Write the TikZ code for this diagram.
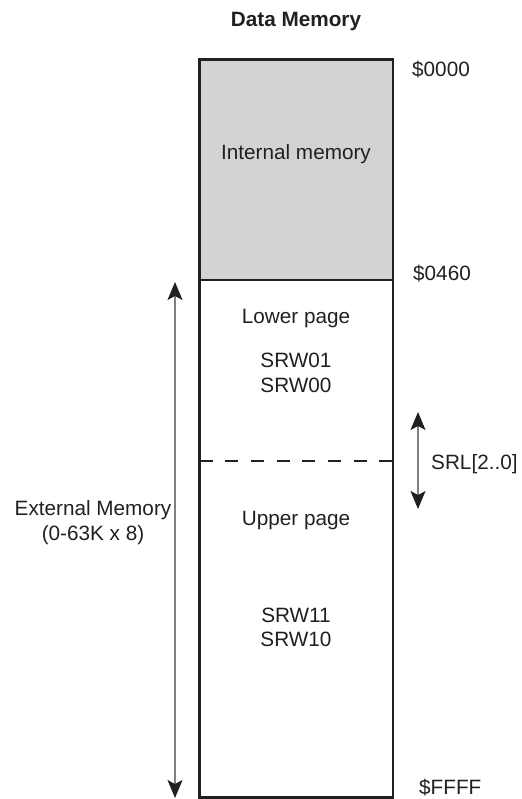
\documentclass[tikz,border=0pt]{standalone}
\usepackage{fontspec}
\setmainfont{Liberation Sans}
\usetikzlibrary{arrows.meta}
\definecolor{memgray}{RGB}{210,211,213}
\definecolor{arrowgray}{RGB}{128,128,128}
\definecolor{inkblack}{RGB}{35,31,32}
\tikzset{
  lbl/.style={inner sep=0pt, text=inkblack, font=\fontsize{20.8}{25}\selectfont},
  boxline/.style={line width=2.6bp, draw=inkblack},
  tipst/.style={Stealth[length=18bp,width=15bp,inset=4bp,color=inkblack]},
  dim/.style={draw=arrowgray, line width=1.2bp, {Stealth[length=18bp,width=15bp,inset=4bp,color=inkblack]}-{Stealth[length=18bp,width=15bp,inset=4bp,color=inkblack]}},
  pagesep/.style={line width=2bp, draw=inkblack, dash pattern=on 13bp off 12.7bp},
  divline/.style={line width=1.1bp, draw=inkblack}
}
\begin{document}
\begin{tikzpicture}[x=1bp,y=-1bp]
\useasboundingbox (0,0) rectangle (522,799);
\coordinate (tl) at (199.5,59.5);
\coordinate (br) at (393,797.5);
\coordinate (ml) at (199.5,280);
\coordinate (mr) at (393,280);
\coordinate (dl) at (199.5,460.5);
\coordinate (dr) at (393,460.5);
\fill[memgray] (tl) rectangle (mr);
\draw[divline] (ml) -- (mr);
\draw[pagesep] (dl) -- (dr);
\draw[boxline] (tl) rectangle (br);

\node[lbl, anchor=base, font=\fontsize{20.8}{25}\selectfont\bfseries] (title) at (296,26.7) {Data Memory};
\node[lbl, anchor=base west] (a0) at (412,76.5) {\$0000};
\node[lbl, anchor=base west] (a460) at (413,280) {\$0460};
\node[lbl, anchor=base west] (affff) at (419,794.3) {\$FFFF};
\node[lbl, anchor=base] (intm) at (296,159.3) {Internal memory};
\node[lbl, anchor=base] (lowp) at (296,323) {Lower page};
\node[lbl, anchor=base] (srw01) at (296,367) {SRW01};
\node[lbl, anchor=base] (srw00) at (296,392.7) {SRW00};
\node[lbl, anchor=base] (upp) at (296,525) {Upper page};
\node[lbl, anchor=base] (srw11) at (296,622.3) {SRW11};
\node[lbl, anchor=base] (srw10) at (296,646.7) {SRW10};
\node[lbl, anchor=base] (ext1) at (93,515.7) {External Memory};
\node[lbl, anchor=base] (ext2) at (93,540.3) {(0-63K x 8)};
\node[lbl, anchor=base west] (srl) at (431,469) {SRL[2..0]};

\coordinate (e1) at (175,282);
\coordinate (e2) at (175,798);
\draw[dim] (e1) -- (e2);
\coordinate (s1) at (418,412);
\coordinate (s2) at (418,509);
\draw[dim] (s1) -- (s2);
\end{tikzpicture}
\end{document}
